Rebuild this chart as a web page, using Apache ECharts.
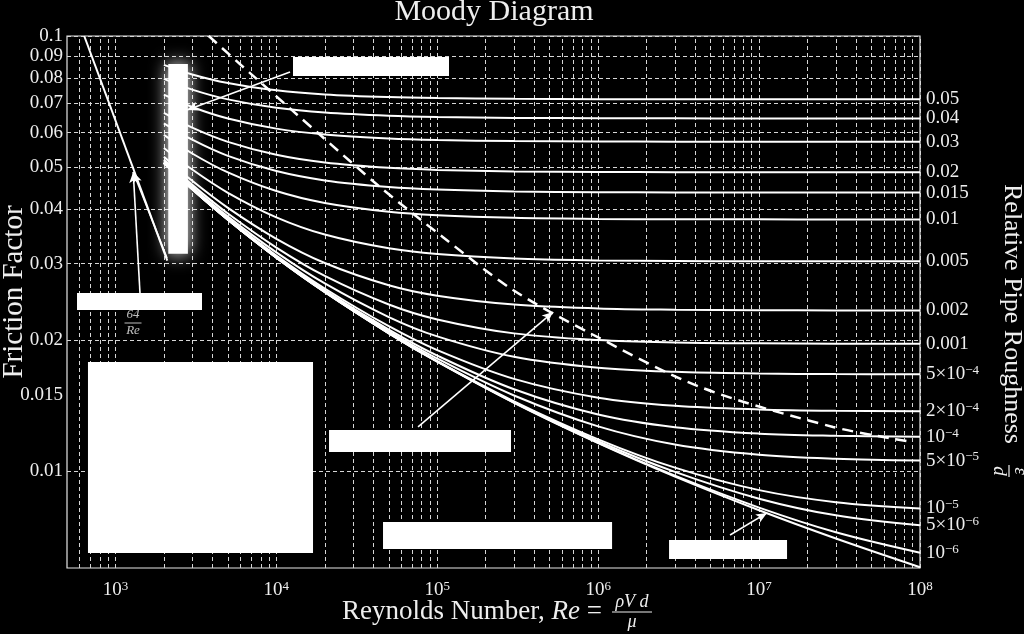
<!DOCTYPE html>
<html>
<head>
<meta charset="utf-8">
<script src="https://cdn.jsdelivr.net/npm/echarts@6/dist/echarts.min.js"></script>
<style>html,body{margin:0;padding:0;background:#000;}#c{width:1024px;height:634px;}</style>
</head>
<body>
<div id="c"></div>
<script>
// ---------------- data ----------------
const reynolds = [2000, 3000, 5000, 1e4, 2e4, 5e4, 1e5, 3e5, 1e6, 3e6, 1e7, 3e7, 1e8];

const f_0_05   = [0.08584, 0.08161, 0.07799, 0.07505, 0.07343, 0.07238, 0.07200, 0.07172, 0.07161, 0.07157, 0.07156, 0.07155, 0.07155];
const f_0_04   = [0.07972, 0.07532, 0.07152, 0.06840, 0.06669, 0.06556, 0.06515, 0.06485, 0.06473, 0.06469, 0.06468, 0.06467, 0.06467];
const f_0_03   = [0.07334, 0.06870, 0.06464, 0.06127, 0.05940, 0.05816, 0.05770, 0.05737, 0.05724, 0.05720, 0.05718, 0.05717, 0.05717];
const f_0_02   = [0.06659, 0.06159, 0.05714, 0.05336, 0.05123, 0.04979, 0.04926, 0.04887, 0.04872, 0.04867, 0.04865, 0.04864, 0.04864];
const f_0_015  = [0.06302, 0.05778, 0.05304, 0.04895, 0.04659, 0.04499, 0.04439, 0.04395, 0.04378, 0.04372, 0.04370, 0.04369, 0.04369];
const f_0_01   = [0.05928, 0.05372, 0.04860, 0.04404, 0.04134, 0.03946, 0.03875, 0.03822, 0.03801, 0.03794, 0.03792, 0.03790, 0.03790];
const f_0_005  = [0.05533, 0.04935, 0.04364, 0.03833, 0.03499, 0.03253, 0.03156, 0.03082, 0.03052, 0.03043, 0.03039, 0.03038, 0.03037];
const f_0_002  = [0.05283, 0.04650, 0.04030, 0.03422, 0.03011, 0.02677, 0.02533, 0.02417, 0.02368, 0.02352, 0.02345, 0.02343, 0.02342];
const f_0_001  = [0.05197, 0.04551, 0.03910, 0.03267, 0.02812, 0.02418, 0.02234, 0.02075, 0.02003, 0.01978, 0.01969, 0.01965, 0.01964];
const f_5em4   = [0.05154, 0.04500, 0.03848, 0.03184, 0.02702, 0.02262, 0.02042, 0.01833, 0.01730, 0.01693, 0.01678, 0.01673, 0.01671];
const f_2em4   = [0.05127, 0.04470, 0.03810, 0.03133, 0.02631, 0.02155, 0.01899, 0.01631, 0.01477, 0.01415, 0.01388, 0.01378, 0.01375];
const f_1em4   = [0.05118, 0.04459, 0.03798, 0.03115, 0.02606, 0.02117, 0.01845, 0.01544, 0.01351, 0.01263, 0.01221, 0.01207, 0.01201];
const f_5em5   = [0.05114, 0.04454, 0.03791, 0.03106, 0.02594, 0.02097, 0.01816, 0.01494, 0.01269, 0.01153, 0.01092, 0.01069, 0.01059];
const f_1em5   = [0.05110, 0.04450, 0.03786, 0.03099, 0.02584, 0.02080, 0.01792, 0.01449, 0.01185, 0.01020, 0.009058, 0.008500, 0.008224];
const f_5em6   = [0.05110, 0.04450, 0.03785, 0.03098, 0.02583, 0.02078, 0.01789, 0.01443, 0.01173, 0.009975, 0.008657, 0.007927, 0.007519];
const f_1em6   = [0.05110, 0.04449, 0.03785, 0.03098, 0.02582, 0.02076, 0.01787, 0.01439, 0.01163, 0.009777, 0.008258, 0.007249, 0.006506];
const f_smooth = [0.05109, 0.04449, 0.03785, 0.03097, 0.02581, 0.02076, 0.01786, 0.01437, 0.01161, 0.009724, 0.008142, 0.007013, 0.006026];

const roughnessLabels = ['0.05','0.04','0.03','0.02','0.015','0.01','0.005','0.002','0.001',
  '5×10^-4','2×10^-4','10^-4','5×10^-5','10^-5','5×10^-6','10^-6', ''];
const roughnessCurves = [f_0_05, f_0_04, f_0_03, f_0_02, f_0_015, f_0_01, f_0_005, f_0_002, f_0_001,
  f_5em4, f_2em4, f_1em4, f_5em5, f_1em5, f_5em6, f_1em6, f_smooth];

const laminarRe = [640, 2100];
const laminarF  = [0.1, 0.03048];

const boundaryRe = [3800, 6862, 18680, 44100, 108600, 295800, 929300, 4297000, 28820000, 90550000];
const boundaryF  = [0.1, 0.0822, 0.0593, 0.0450, 0.0345, 0.0261, 0.0206, 0.01563, 0.01265, 0.01168];

const xTickValues = [1e3, 1e4, 1e5, 1e6, 1e7, 1e8];
const yTickValues = [0.01, 0.015, 0.02, 0.03, 0.04, 0.05, 0.06, 0.07, 0.08, 0.09, 0.1];
const xGridValues = [600, 700, 800, 900,
  1000, 2000, 3000, 4000, 5000, 6000, 7000, 8000, 9000,
  1e4, 2e4, 3e4, 4e4, 5e4, 6e4, 7e4, 8e4, 9e4,
  1e5, 2e5, 3e5, 4e5, 5e5, 6e5, 7e5, 8e5, 9e5,
  1e6, 2e6, 3e6, 4e6, 5e6, 6e6, 7e6, 8e6, 9e6,
  1e7, 2e7, 3e7, 4e7, 5e7, 6e7, 7e7, 8e7, 9e7, 1e8];
const yGridValues = [0.006, 0.007, 0.008, 0.009, 0.01, 0.015, 0.02, 0.03, 0.04, 0.05, 0.06, 0.07, 0.08, 0.09, 0.1];

// annotation boxes [Re1, f1, Re2, f2]
const boxTop     = [12690, 0.08949, 118300, 0.08093];
const boxLaminar = [577, 0.02569, 3451, 0.02348];
const boxBig     = [675, 0.01784, 16900, 0.006495];
const boxMid     = [21250, 0.01245, 287300, 0.01108];
const boxLow     = [46010, 0.007653, 1220000, 0.006635];
const boxRight   = [2757000, 0.006960, 14920000, 0.006290];
const glowZone   = [2130, 0.0862, 2820, 0.0316];

// arrows [fromRe, fromF, toRe, toF]
const arrowTop   = [12160, 0.0827, 2785, 0.0676];
const arrowLam1  = [1421, 0.02569, 1290, 0.0487];
const arrowLam2  = [2092, 0.0309, 1290, 0.0487];
const arrowMid   = [75950, 0.01265, 524200, 0.02323];
const arrowLow   = [6600000, 0.007143, 11200000, 0.008029];
const laminarLabelPos = [1286, 0.02192];

// ---------------- chart ----------------
const FONT = 'Liberation Serif';
const TXT = '#eeeeee';
const chart = echarts.init(document.getElementById('c'), null, {width: 1024, height: 634});

const supRich = {
  b: {fontFamily: FONT, fontSize: 19, color: TXT, lineHeight: 20},
  s: {fontFamily: FONT, fontSize: 13, color: TXT, lineHeight: 12, verticalAlign: 'top'}
};
function toRich(s) {
  const m = s.match(/^(.*)\^(-?\d+)$/);
  if (!m) return '{b|' + s + '}';
  return '{b|' + m[1] + '}{s|' + m[2].replace('-', '\u2212') + '}';
}

const series = [];

// dashed grid lines
series.push({
  type: 'line', data: [[1000, 0.05]], symbol: 'none', lineStyle: {opacity: 0}, z: 1, silent: true,
  markLine: {
    silent: true, z: 1, symbol: ['none', 'none'], label: {show: false},
    lineStyle: {color: '#d6d6d6', width: 1, type: [4, 3]},
    emphasis: {disabled: true},
    data: xGridValues.map(v => ({xAxis: v})).concat(yGridValues.map(v => ({yAxis: v})))
  }
});

roughnessCurves.forEach((arr, k) => {
  const lab = roughnessLabels[k];
  series.push({
    type: 'line', name: 'c' + k, z: 3, clip: false, smooth: 0.35, showSymbol: false, silent: true,
    data: reynolds.map((r, i) => [r, arr[i]]),
    lineStyle: {color: '#ffffff', width: 2},
    endLabel: lab ? {show: true, distance: 6, formatter: () => toRich(lab), rich: supRich} : {show: false}
  });
});

series.push({
  type: 'line', z: 3, clip: false, showSymbol: false, silent: true,
  data: laminarRe.map((r, i) => [r, laminarF[i]]),
  lineStyle: {color: '#ffffff', width: 2}
});
series.push({
  type: 'line', z: 3, clip: false, showSymbol: false, silent: true, smooth: 0.3,
  data: boundaryRe.map((r, i) => [r, boundaryF[i]]),
  lineStyle: {color: '#ffffff', width: 2.5, type: [11, 7]}
});

function area(b) { return [{coord: [b[0], b[1]]}, {coord: [b[2], b[3]]}]; }
function arrow(a) { return [{coord: [a[0], a[1]]}, {coord: [a[2], a[3]]}]; }

series.push({
  type: 'line', data: [[1000, 0.05]], symbol: 'none', lineStyle: {opacity: 0}, z: 8, silent: true,
  markLine: {
    silent: true, z: 8, symbol: ['none', 'arrow'], symbolSize: [7, 11], label: {show: false},
    lineStyle: {color: '#ffffff', width: 1.6, type: 'solid'},
    data: [arrow(arrowTop), arrow(arrowLam1), arrow(arrowLam2), arrow(arrowMid), arrow(arrowLow)]
  },
  markArea: {
    silent: true, z: 9, label: {show: false},
    itemStyle: {color: '#ffffff', opacity: 1},
    data: [area(boxTop), area(boxLaminar), area(boxBig), area(boxMid), area(boxLow), area(boxRight)]
  }
});
series.push({
  type: 'line', data: [[1000, 0.05]], symbol: 'none', lineStyle: {opacity: 0}, z: 9, silent: true,
  markArea: {
    silent: true, z: 9, label: {show: false},
    itemStyle: {color: '#ffffff', opacity: 1, shadowBlur: 18, shadowColor: '#ffffff'},
    data: [area(glowZone)]
  }
});
series.push({
  type: 'scatter', z: 9, silent: true, symbolSize: 1,
  itemStyle: {color: 'rgba(0,0,0,0)'},
  data: [laminarLabelPos],
  label: {
    show: true, position: 'inside',
    formatter: '{n|64}\n{l| }\n{d|Re}',
    rich: {
      n: {fontFamily: FONT, fontSize: 13, fontStyle: 'italic', color: TXT, align: 'center', lineHeight: 13},
      l: {width: 17, height: 1, lineHeight: 3, backgroundColor: TXT, align: 'center'},
      d: {fontFamily: FONT, fontSize: 13, fontStyle: 'italic', color: TXT, align: 'center', lineHeight: 13}
    }
  }
});

function frac(cx, cy, num, den, size, rot, w) {
  return {
    type: 'group', x: cx, y: cy, rotation: rot || 0, silent: true,
    children: [
      {type: 'text', x: 0, y: -1, style: {text: num, font: 'italic ' + size + 'px "' + FONT + '"', fill: TXT, align: 'center', verticalAlign: 'bottom'}},
      {type: 'rect', shape: {x: -w / 2, y: -0.6, width: w, height: 1.2}, style: {fill: TXT}},
      {type: 'text', x: 0, y: 1, style: {text: den, font: 'italic ' + size + 'px "' + FONT + '"', fill: TXT, align: 'center', verticalAlign: 'top'}}
    ]
  };
}

const option = {
  backgroundColor: '#000000',
  animation: false,
  grid: {left: 67, right: 104, top: 36, bottom: 66, show: true, borderColor: '#e6e6e6', borderWidth: 1.2, backgroundColor: 'transparent'},
  xAxis: {
    type: 'log', min: 500, max: 1e8, logBase: 10,
    axisLine: {show: false}, axisTick: {show: false}, splitLine: {show: false}, minorSplitLine: {show: false},
    axisLabel: {
      customValues: xTickValues, margin: 12,
      formatter: v => '{b|10}{s|' + Math.round(Math.log10(v)) + '}', rich: supRich
    }
  },
  yAxis: {
    type: 'log', min: 0.006, max: 0.1, logBase: 10,
    axisLine: {show: false}, axisTick: {show: false}, splitLine: {show: false},
    axisLabel: {
      customValues: yTickValues, margin: 4, fontFamily: FONT, fontSize: 19, color: TXT,
      formatter: v => String(+Number(v).toPrecision(3))
    }
  },
  graphic: [
    {type: 'text', x: 494, y: 12, silent: true, style: {text: 'Moody Diagram', font: '30px "' + FONT + '"', fill: TXT, align: 'center', verticalAlign: 'middle'}},
    {type: 'text', x: 14, y: 292, rotation: Math.PI / 2, silent: true, style: {text: 'Friction Factor', font: '29px "' + FONT + '"', fill: TXT, align: 'center', verticalAlign: 'middle'}},
    {type: 'text', x: 1012, y: 314, rotation: -Math.PI / 2, silent: true, style: {text: 'Relative Pipe Roughness', font: '26px "' + FONT + '"', fill: TXT, align: 'center', verticalAlign: 'middle'}},
    frac(1009, 471, 'ε', 'd', 19, -Math.PI / 2, 12),
    {type: 'text', x: 602, y: 612, silent: true, style: {
      text: '{r|Reynolds Number, }{i|Re}{r| =}', align: 'right', verticalAlign: 'middle',
      rich: {
        r: {fontFamily: FONT, fontSize: 27, fill: TXT},
        i: {fontFamily: FONT, fontSize: 27, fontStyle: 'italic', fill: TXT}
      }
    }},
    frac(632, 612, 'ρV d', 'μ', 18, 0, 40)
  ],
  series: series
};
chart.setOption(option);
</script>
</body>
</html>
